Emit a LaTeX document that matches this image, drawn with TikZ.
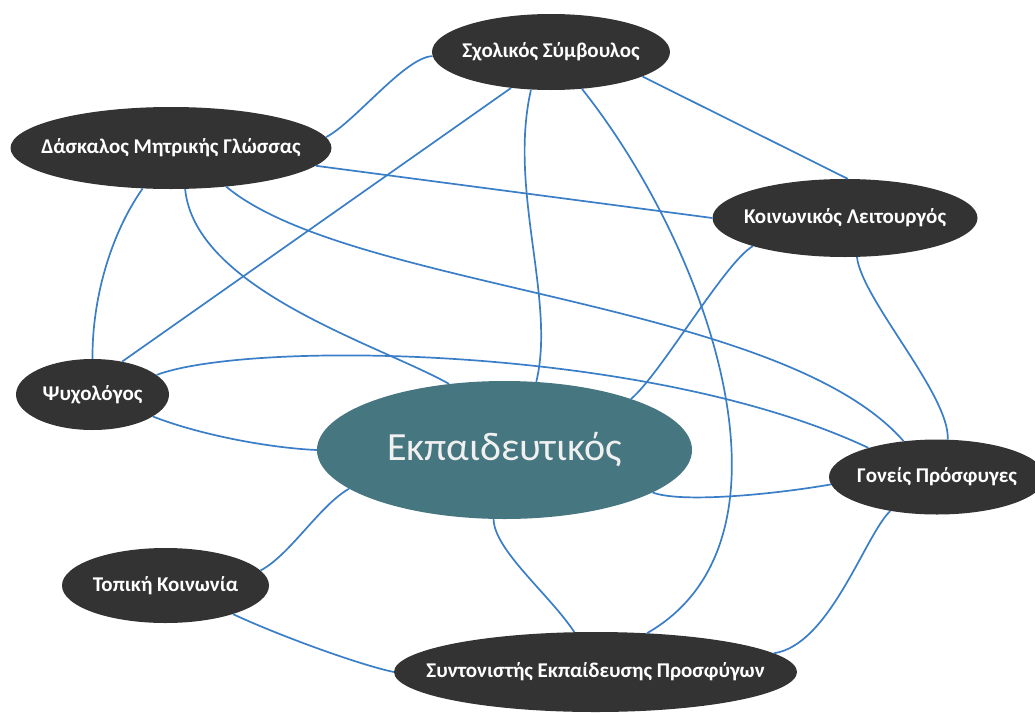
\documentclass[tikz,border=0pt]{standalone}
\usepackage{fontspec}
\setmainfont{Carlito}
\usetikzlibrary{shapes.geometric}
\definecolor{nodedark}{RGB}{51,51,51}
\definecolor{centerteal}{RGB}{70,119,129}
\definecolor{linkblue}{RGB}{58,126,200}
\tikzset{
  pnode/.style={ellipse, fill=nodedark, inner sep=0pt, text=white,
    font=\bfseries\fontsize{21}{21}\selectfont},
  cnode/.style={ellipse, fill=centerteal, inner sep=0pt, text=white!94!black,
    font=\fontsize{40}{40}\selectfont},
  link/.style={draw=linkblue, line width=1.7pt},
}
\begin{document}
\begin{tikzpicture}[x=1pt,y=-1pt]
\useasboundingbox (0,0) rectangle (1035,712);
\clip (0,0) rectangle (1035,712);
% nodes
\node[pnode, minimum width=238pt, minimum height=76pt] (ss) at (551,52) {\makebox[0pt]{Σχολικός Σύμβουλος}};
\node[pnode, minimum width=321pt, minimum height=82pt] (dm) at (171,148) {\makebox[0pt]{Δάσκαλος Μητρικής Γλώσσας}};
\node[pnode, minimum width=265pt, minimum height=78pt] (kl) at (845,218) {\makebox[0pt]{Κοινωνικός Λειτουργός}};
\node[pnode, minimum width=153pt, minimum height=71pt] (ps) at (92.5,394.5) {\makebox[0pt]{Ψυχολόγος}};
\node[cnode, minimum width=375pt, minimum height=138pt] (ek) at (504.5,450) {\makebox[0pt]{Εκπαιδευτικός}};
\node[pnode, minimum width=216pt, minimum height=75pt] (gp) at (937,477) {\makebox[0pt]{Γονείς Πρόσφυγες}};
\node[pnode, minimum width=207pt, minimum height=75pt] (tk) at (165.5,585.5) {\makebox[0pt]{Τοπική Κοινωνία}};
\node[pnode, minimum width=403pt, minimum height=80pt] (se) at (595.5,672) {\makebox[0pt]{Συντονιστής Εκπαίδευσης Προσφύγων}};
% connectors
\draw[link] (ss.182) .. controls (405,57) and (355,122) .. (dm.4);
\draw[link] (ss.222) -- (ps.48);
\draw[link] (ss.242) .. controls (508,190) and (556,300) .. (ek.65);
\draw[link] (ss.310) .. controls (710,250) and (810,540) .. (se.37);
\draw[link] (ss.345) -- (kl.86);
\draw[link] (dm.353) -- (kl.180);
\draw[link] (dm.235) .. controls (110,235) and (92,300) .. (ps.90);
\draw[link] (dm.289) .. controls (195,290) and (380,345) .. (ek.130);
\draw[link] (dm.325) .. controls (350,290) and (780,300) .. (gp.133);
\draw[link] (kl.197) .. controls (725,262) and (660,375) .. (ek.22);
\draw[link] (kl.287) .. controls (862,300) and (950,395) .. (gp.74);
\draw[link] (ps.340) .. controls (200,435) and (270,448) .. (ek.180);
\draw[link] (ek.344) .. controls (680,503) and (770,495) .. (gp.184);
\draw[link] (ek.194) .. controls (320,505) and (290,555) .. (tk.9);
\draw[link] (ek.261) .. controls (494,550) and (550,595) .. (se.118);
\draw[link] (tk.337) .. controls (280,636) and (360,665) .. (se.180);
\draw[link] (gp.216) .. controls (865,535) and (830,645) .. (se.6);
\draw[link] (ps.17) .. controls (250,340) and (650,345) .. (gp.157);
\end{tikzpicture}
\end{document}
